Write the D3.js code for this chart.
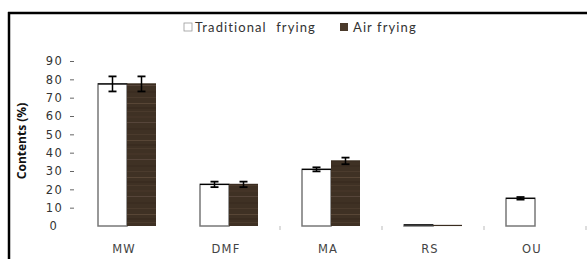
<!DOCTYPE html>
<html><head><meta charset="utf-8">
<script src="https://cdn.jsdelivr.net/npm/d3@7"></script>
<style>
body{margin:0;background:#fff;}
svg{display:block;}
</style></head>
<body><svg id="c" width="587" height="259"></svg>
<script>
const categories = ["MW", "DMF", "MA", "RS", "OU"];
const seriesNames = ["Traditional frying", "Air frying"];
const traditional = [77.5, 22.7, 30.9, 0.6, 15.1];
const traditionalErr = [4.1, 1.5, 1.1, 0, 0.7];
const airFrying = [77.5, 22.7, 35.5, 0.3, 0];
const airFryingErr = [4.1, 1.5, 1.8, 0, 0];
const yTicks = [0, 10, 20, 30, 40, 50, 60, 70, 80, 90];

const svg = d3.select("#c");
const defs = svg.append("defs");
const pat = defs.append("pattern").attr("id", "wood").attr("patternUnits", "userSpaceOnUse")
  .attr("width", 30).attr("height", 37);
pat.append("rect").attr("width", 30).attr("height", 37).attr("fill", "#3f3124");
const stripes = [[0,1,"#4a3a2c"],[5,2,"#443427"],[11,1,"#56453a"],[17,2,"#3b2d21"],[23,1,"#4b3b2d"],[29,1,"#584636"],[33,2,"#3a2c20"]];
stripes.forEach(s => pat.append("rect").attr("y", s[0]).attr("width", 30).attr("height", s[1]).attr("fill", s[2]));

// frame
svg.append("line").attr("x1", 8).attr("x2", 587).attr("y1", 13).attr("y2", 13).attr("stroke", "#000").attr("stroke-width", 2.5);
svg.append("line").attr("x1", 9).attr("x2", 9).attr("y1", 12).attr("y2", 259).attr("stroke", "#000").attr("stroke-width", 2.5);

const x0 = d3.scaleBand().domain(categories).range([76, 586]);
const x1 = d3.scaleBand().domain(seriesNames).range([0, 58]);
const y = d3.scaleLinear().domain([0, 90]).range([226, 61]);
const off = (x0.bandwidth() - 58) / 2;

// y axis
const yAxis = svg.append("g").attr("transform", "translate(75,0)")
  .call(d3.axisLeft(y).tickValues(yTicks).tickSize(0).tickPadding(12));
yAxis.select(".domain").remove();
yAxis.selectAll("text").attr("font-family", "DejaVu Sans").attr("font-size", 11.5)
  .attr("letter-spacing", 1.3).attr("fill", "#333")
  .attr("dx", d => d === 0 ? -5 : 0);
yAxis.selectAll(".tick").filter(d => d !== 0).append("line")
  .attr("x1", -5).attr("x2", -1).attr("stroke", "#666").attr("stroke-width", 1);

svg.append("text").attr("transform", "translate(26,141) rotate(-90)")
  .attr("text-anchor", "middle").attr("font-family", "Open Sans").attr("font-weight", "bold")
  .attr("font-size", 12).attr("fill", "#111").text("Contents (%)");

// category separators
const bounds = categories.map(c => x0(c)).concat([x0.range()[1]]);
svg.selectAll(".sep").data(bounds.slice(2)).enter().append("line")
  .attr("x1", d => d).attr("x2", d => d).attr("y1", 226).attr("y2", 230)
  .attr("stroke", "#bbb").attr("stroke-width", 1);

// category labels
svg.selectAll(".cat").data(categories).enter().append("text")
  .attr("x", d => x0(d) + x0.bandwidth() / 2 - 3).attr("y", 253)
  .attr("text-anchor", "middle").attr("font-family", "DejaVu Sans").attr("font-size", 11.5)
  .attr("letter-spacing", 1.2).attr("fill", "#444").text(d => d);

const data = categories.map((c, i) => ({
  cat: c,
  vals: [
    { s: seriesNames[0], v: traditional[i], e: traditionalErr[i] },
    { s: seriesNames[1], v: airFrying[i], e: airFryingErr[i] }
  ]
}));

const groups = svg.selectAll(".grp").data(data).enter().append("g")
  .attr("transform", d => `translate(${x0(d.cat) + off},0)`);

groups.selectAll("rect").data(d => d.vals.filter(v => v.v > 0)).enter().append("rect")
  .attr("x", d => x1(d.s)).attr("width", x1.bandwidth())
  .attr("y", d => y(d.v)).attr("height", d => y(0) - y(d.v))
  .attr("fill", d => d.s === seriesNames[0] ? "#fff" : "url(#wood)")
  .attr("stroke", d => d.s === seriesNames[0] ? "#777" : "none")
  .attr("stroke-width", 1.5);
groups.selectAll(".top").data(d => d.vals.filter(v => v.v > 0)).enter().append("line")
  .attr("x1", d => x1(d.s)).attr("x2", d => x1(d.s) + x1.bandwidth())
  .attr("y1", d => y(d.v)).attr("y2", d => y(d.v))
  .attr("stroke", d => d.s === seriesNames[0] ? "#000" : "#3a2c20").attr("stroke-width", 1.2);

// error bars
const eb = groups.selectAll(".eb").data(d => d.vals.filter(v => v.e > 0)).enter().append("g")
  .attr("transform", d => `translate(${x1(d.s) + x1.bandwidth() / 2},0)`);
eb.append("line").attr("y1", d => y(d.v + d.e)).attr("y2", d => y(d.v - d.e))
  .attr("stroke", "#000").attr("stroke-width", 1.5);
eb.append("line").attr("x1", -4).attr("x2", 4).attr("y1", d => y(d.v + d.e)).attr("y2", d => y(d.v + d.e))
  .attr("stroke", "#000").attr("stroke-width", 1.8);
eb.append("line").attr("x1", -4).attr("x2", 4).attr("y1", d => y(d.v - d.e)).attr("y2", d => y(d.v - d.e))
  .attr("stroke", "#000").attr("stroke-width", 1.8);

// legend
const leg = svg.append("g").attr("font-family", "Lato").attr("font-size", 13).attr("fill", "#333")
  .attr("letter-spacing", 1.1);
const legX = [184, 340];
seriesNames.forEach((s, i) => {
  leg.append("rect").attr("x", legX[i]).attr("y", 23).attr("width", 8).attr("height", 8)
    .attr("fill", i === 0 ? "#fff" : "#4a3a2b")
    .attr("stroke", i === 0 ? "#999" : "none").attr("stroke-width", 0.8);
  leg.append("text").attr("x", legX[i] + (i === 0 ? 11 : 13)).attr("y", 32).text(s)
    .attr("word-spacing", i === 0 ? 5 : 0);
});
</script></body></html>
